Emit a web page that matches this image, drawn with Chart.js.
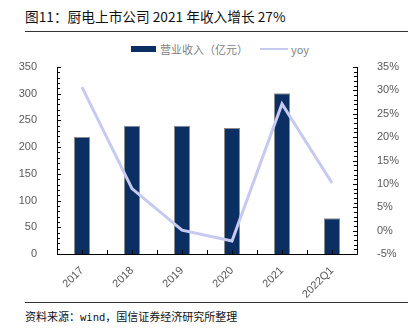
<!DOCTYPE html>
<html>
<head>
<meta charset="utf-8">
<script src="https://cdn.jsdelivr.net/npm/chart.js@4"></script>
<style>
  html, body { margin: 0; padding: 0; background: #fff; }
  body { width: 414px; height: 332px; position: relative; overflow: hidden; font-family: "Noto Sans CJK SC", "Noto Sans", sans-serif; }
  .title { position: absolute; left: 25px; top: 6px; font-size: 13.7px; color: #111; white-space: nowrap; }
  .rule { position: absolute; left: 25px; width: 383px; height: 1px; background: #333; }
  .legend { position: absolute; top: 40px; left: 0; width: 414px; height: 18px; font-size: 11px; color: #7f7f7f; }
  .legend span { position: absolute; top: 0; line-height: 18px; white-space: nowrap; }
  .source { position: absolute; left: 25px; top: 308px; font-size: 11px; color: #111; white-space: nowrap; }
  .source b { font-weight: normal; font-family: "DejaVu Sans Mono", monospace; font-size: 10.5px; }
  #wrap { position: absolute; left: 0; top: 38px; width: 414px; height: 262px; }
</style>
</head>
<body>
<div class="title">图11：厨电上市公司 2021 年收入增长 27%</div>
<div class="rule" style="top:31px"></div>
<div class="legend">
  <span style="left:131px;top:6px;width:25px;height:6px;background:#0b2f63"></span>
  <span style="left:160px">营业收入（亿元）</span>
  <span style="left:260px;top:8px;width:28px;height:2px;background:#c6c9f0"></span>
  <span style="left:291px">yoy</span>
</div>
<div id="wrap"><canvas id="chart"></canvas></div>
<div class="rule" style="top:302px"></div>
<div class="source">资料来源：<b>wind</b>，国信证券经济研究所整理</div>
<script>
const categories = ['2017', '2018', '2019', '2020', '2021', '2022Q1']
const revenue = [219, 240, 240, 236, 301, 67]
const yoy = [30.7, 9.0, 0.1, -2.2, 27.1, 10.2]

const tickColor = '#595959'

const axisTicks = {
    id: 'axisTicks',
    afterDraw(chart) {
        const ctx = chart.ctx
        const area = chart.chartArea
        const y = chart.scales.y
        const y1 = chart.scales.y1

        ctx.save()
        ctx.strokeStyle = '#000'
        ctx.lineWidth = 1

        ctx.beginPath()
        ctx.moveTo(area.left + 0.5, area.top)
        ctx.lineTo(area.left + 0.5, area.bottom + 0.5)
        ctx.lineTo(area.right + 0.5, area.bottom + 0.5)
        ctx.lineTo(area.right + 0.5, area.top)

        for (let v = 0; v <= 350; v += 10) {
            const py = Math.round(y.getPixelForValue(v)) + 0.5
            ctx.moveTo(area.left, py)
            ctx.lineTo(area.left + (v % 50 === 0 ? 4 : 3), py)
        }

        for (let v = -5; v <= 35; v += 1) {
            const py = Math.round(y1.getPixelForValue(v)) + 0.5
            ctx.moveTo(area.right, py)
            ctx.lineTo(area.right - (v % 5 === 0 ? 4 : 3), py)
        }

        const step = (area.right - area.left) / categories.length
        for (let i = 0; i <= categories.length * 2; i++) {
            const px = Math.round(area.left + i * step / 2) + 0.5
            ctx.moveTo(px, area.bottom)
            ctx.lineTo(px, area.bottom - 4)
        }

        ctx.stroke()
        ctx.restore()
    }
}

new Chart(document.getElementById('chart'), {
    type: 'bar',
    data: {
        labels: categories,
        datasets: [{
            type: 'line',
            label: 'yoy',
            data: yoy,
            yAxisID: 'y1',
            borderColor: '#c6c9f0',
            borderWidth: 3,
            pointRadius: 0,
            tension: 0,
            order: 0
        }, {
            label: '营业收入（亿元）',
            data: revenue,
            yAxisID: 'y',
            backgroundColor: '#0b2f63',
            borderColor: '#8c8c8c',
            borderWidth: { top: 1, left: 1, right: 1, bottom: 0 },
            barPercentage: 0.64,
            categoryPercentage: 0.5,
            order: 1
        }]
    },
    options: {
        responsive: true,
        maintainAspectRatio: false,
        animation: false,
        layout: { padding: { top: 29, left: 0, right: 0, bottom: 0 } },
        plugins: { legend: { display: false }, tooltip: { enabled: false } },
        scales: {
            x: {
                grid: { display: false },
                border: { display: false },
                ticks: {
                    color: tickColor,
                    font: { family: 'Liberation Sans', size: 11 },
                    minRotation: 45,
                    maxRotation: 45,
                    padding: 2
                },
                afterFit: scale => { scale.height = 46 }
            },
            y: {
                position: 'left',
                min: 0,
                max: 350,
                grid: { display: false },
                border: { display: false },
                ticks: {
                    stepSize: 50,
                    color: tickColor,
                    font: { family: 'Liberation Sans', size: 11 },
                    padding: 12
                },
                afterFit: scale => { scale.width = 57 }
            },
            y1: {
                position: 'right',
                min: -5,
                max: 35,
                grid: { display: false },
                border: { display: false },
                ticks: {
                    stepSize: 5,
                    color: tickColor,
                    font: { family: 'Liberation Sans', size: 11 },
                    padding: 12,
                    callback: v => v + '%'
                },
                afterFit: scale => { scale.width = 57 }
            }
        }
    },
    plugins: [axisTicks]
})
</script>
</body>
</html>
